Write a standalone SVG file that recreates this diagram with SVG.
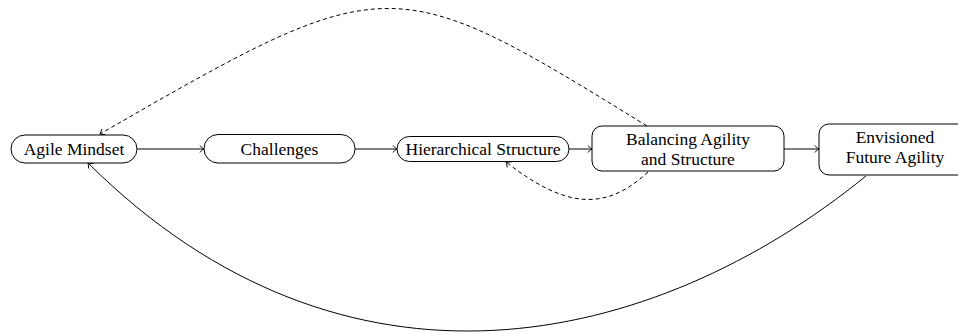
<svg xmlns="http://www.w3.org/2000/svg" width="958" height="334" viewBox="0 0 958 334">
  <style>
    .box { fill: #ffffff; stroke: #000000; stroke-width: 1; }
    .lbl { font-family: "Liberation Serif", "Times New Roman", serif; font-size: 17.5px; fill: #000000; text-anchor: middle; }
    .edge { fill: none; stroke: #000000; stroke-width: 1; marker-end: url(#tip); }
    .dash { stroke-dasharray: 4 3; }
  </style>
  <defs>
    <marker id="tip" viewBox="-6 -5 8 10" markerWidth="8" markerHeight="10" refX="0" refY="0" orient="auto" markerUnits="userSpaceOnUse">
      <path d="M -4,-3.2 Q -1.2,-0.6 0,0 Q -1.2,0.6 -4,3.2" fill="none" stroke="#000000" stroke-width="0.9" stroke-linecap="round"/>
    </marker>
  </defs>

  <!-- connectors -->
  <g id="connectors">
    <line class="edge" x1="137" y1="149" x2="204" y2="149"/>
    <line class="edge" x1="355" y1="149" x2="397" y2="149"/>
    <line class="edge" x1="569" y1="149" x2="592" y2="149"/>
    <line class="edge" x1="784" y1="149" x2="819" y2="149"/>
    <!-- feedback: balancing back to mindset -->
    <path class="edge dash" d="M 647,126 C 391,-32 388,-32 100,134"/>
    <!-- feedback: balancing back to hierarchy -->
    <path class="edge dash" d="M 648,172 C 605,212 565,208 506,162"/>
    <!-- loop: future agility back to mindset -->
    <path class="edge" d="M 866,176 C 652,350 345,418 88,163"/>
  </g>

  <g id="agile-mindset">
    <rect class="box" x="11" y="135" width="126" height="28" rx="14" ry="14"/>
    <text class="lbl" x="74" y="154.5">Agile Mindset</text>
  </g>
  <g id="challenges">
    <rect class="box" x="204" y="134.5" width="151" height="28.5" rx="14" ry="14"/>
    <text class="lbl" x="279.5" y="154.5">Challenges</text>
  </g>
  <g id="hierarchical-structure">
    <rect class="box" x="397" y="136.5" width="172" height="25" rx="12.5" ry="12.5"/>
    <text class="lbl" x="483" y="155">Hierarchical Structure</text>
  </g>
  <g id="balancing">
    <rect class="box" x="592" y="126" width="192" height="45" rx="10" ry="10"/>
    <text class="lbl" x="688" y="144.5">Balancing Agility</text>
    <text class="lbl" x="688" y="165">and Structure</text>
  </g>
  <g id="envisioned">
    <rect class="box" x="819" y="124" width="152" height="51" rx="10" ry="10"/>
    <text class="lbl" x="895" y="143">Envisioned</text>
    <text class="lbl" x="895" y="163">Future Agility</text>
  </g>
</svg>
